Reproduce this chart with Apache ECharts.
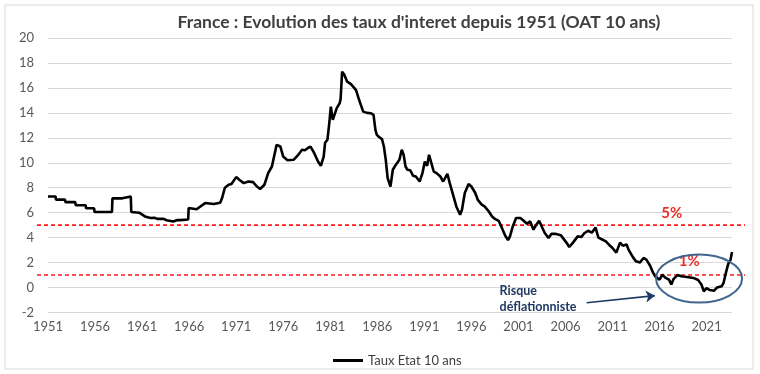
<!DOCTYPE html>
<html>
<head>
<meta charset="utf-8">
<script src="https://cdn.jsdelivr.net/npm/echarts@6/dist/echarts.min.js"></script>
<style>html,body{margin:0;padding:0;background:#fff}#c{width:760px;height:374px}</style>
</head>
<body>
<div id="c"></div>
<script>
const BASE_YEAR = 1951;
const years = [
1951.0,1951.8,1951.85,1952.8,1952.85,1953.9,1953.95,1955.0,1955.05,1955.9,1955.95,1957.8,1957.85,1958.9,1958.95,1959.8,1959.85,1960.7,
1961.3,1961.9,1962.3,1962.6,1963.3,1963.6,1964.3,1964.7,1965.05,1965.9,1965.95,1966.8,1967.2,1967.7,1968.6,1969.3,1969.5,1969.8,1970.2,1970.5,
1971.0,1971.4,1971.8,1972.3,1972.8,1973.2,1973.55,1974.0,1974.4,1974.8,1975.0,1975.3,1975.7,1976.0,1976.45,1977.1,1977.6,1978.0,1978.3,1978.6,
1978.9,1979.3,1979.7,1980.0,1980.3,1980.45,1980.7,1980.9,1981.06,1981.27,1981.7,1982.0,1982.1,1982.26,1982.47,1982.8,1983.2,1983.5,1983.75,
1984.0,1984.25,1984.5,1984.9,1985.3,1985.6,1985.8,1985.95,1986.2,1986.5,1986.7,1986.9,1987.1,1987.4,1987.65,1987.9,1988.1,1988.35,1988.6,
1988.8,1989.0,1989.2,1989.5,1989.8,1990.1,1990.5,1990.8,1991.05,1991.3,1991.5,1991.7,1992.0,1992.3,1992.7,1993.0,1993.2,1993.45,1993.7,
1994.1,1994.4,1994.8,1995.0,1995.3,1995.7,1996.0,1996.4,1996.7,1997.1,1997.4,1997.8,1998.2,1998.5,1998.9,1999.2,1999.6,1999.9,2000.1,
2000.4,2000.75,2001.2,2001.5,2001.9,2002.25,2002.6,2002.9,2003.2,2003.5,2003.8,2004.2,2004.5,2005.0,2005.5,2005.9,2006.2,2006.4,2006.8,
2007.3,2007.7,2008.0,2008.4,2008.8,2009.2,2009.5,2009.9,2010.3,2010.6,2011.0,2011.4,2011.8,2012.1,2012.5,2012.7,2013.2,2013.5,2013.9,
2014.3,2014.6,2015.0,2015.3,2015.6,2016.0,2016.3,2016.6,2017.0,2017.25,2017.5,2017.9,2018.3,2018.9,2019.6,2020.1,2020.45,2020.7,2021.0,
2021.35,2021.8,2022.1,2022.6,2022.8,2023.05,2023.3,2023.55,2023.7
];
const rates = [
7.3,7.3,7.05,7.05,6.85,6.85,6.6,6.6,6.35,6.35,6.05,6.05,7.15,7.15,7.3,7.3,6.05,6.0,
5.7,5.57,5.6,5.5,5.5,5.39,5.3,5.4,5.4,5.45,6.37,6.27,6.5,6.77,6.7,6.8,7.17,8.0,8.24,8.3,
8.85,8.6,8.37,8.5,8.45,8.1,7.9,8.24,9.17,9.7,10.4,11.44,11.3,10.5,10.2,10.24,10.64,11.04,11.0,11.17,
11.3,10.77,10.1,9.76,10.5,11.6,11.84,13.2,14.5,13.44,14.4,14.77,15.1,17.3,17.1,16.5,16.3,16.05,15.8,
15.2,14.64,14.1,14.0,13.97,13.84,12.64,12.24,12.05,11.9,11.3,10.24,8.77,8.1,9.44,9.76,9.7,10.24,11.04,
10.64,9.7,9.44,9.4,8.96,8.9,8.5,9.17,10.1,9.76,10.64,10.1,9.3,9.17,8.9,8.5,8.77,9.12,8.37,
7.3,6.5,5.84,6.24,7.57,8.3,8.1,7.6,7.0,6.64,6.5,6.15,5.7,5.5,5.35,4.85,4.15,3.8,4.1,
4.9,5.57,5.57,5.39,5.12,5.3,4.64,5.04,5.35,4.85,4.37,3.97,4.3,4.3,4.2,3.8,3.5,3.25,3.6,
4.1,4.05,4.35,4.55,4.4,4.8,4.0,3.85,3.7,3.45,3.17,2.8,3.6,3.35,3.45,3.04,2.4,2.1,2.0,
2.37,2.24,1.75,1.2,0.85,0.64,1.04,0.8,0.64,0.25,0.7,1.0,0.9,0.85,0.77,0.6,0.25,-0.3,-0.05,
-0.2,-0.25,0.0,0.1,0.37,1.17,1.9,2.24,2.85
];
const yTicks = {min: -2, max: 20, interval: 2};
const xTickInterval = 5;
const seriesName = 'Taux Etat 10 ans';
const titleText = "France : Evolution des taux d'interet depuis 1951 (OAT 10 ans)";
const refLevels = [5, 1];
const refLabels = [{text: '5%', year: 2017.3, value: 5.98}, {text: '1%', year: 2019.15, value: 2.1}];
const ellipseCenter = {year: 2020.2, value: 0.72};
const arrowFrom = {year: 2008.25, value: -1.22};
const arrowTo = {year: 2015.5, value: -0.65};
const noteLines = [{text: 'Risque', year: 1999.0, value: -0.3}, {text: 'déflationniste', year: 1999.0, value: -1.58}];

const FONT = 'Lato';
const data = years.map((y, i) => [y - BASE_YEAR, rates[i]]);
const xMax = years[years.length - 1] - BASE_YEAR;

const chart = echarts.init(document.getElementById('c'), null, {renderer: 'canvas'});
chart.setOption({
  animation: false,
  backgroundColor: '#fff',
  textStyle: {fontFamily: FONT},
  title: {
    text: titleText,
    left: 414, top: 8, textAlign: 'center',
    textStyle: {fontFamily: FONT, fontSize: 17.5, fontWeight: 'bold', color: '#404040'}
  },
  grid: {left: 48, right: 28, top: 38, bottom: 61.5, containLabel: false},
  legend: {
    left: 328, top: 349,
    itemWidth: 30, itemHeight: 3, itemGap: 5,
    textStyle: {fontFamily: FONT, fontSize: 13, color: '#404040'},
    data: [{name: seriesName, icon: 'rect'}]
  },
  xAxis: {
    type: 'value', min: 0, max: xMax, interval: xTickInterval,
    axisLine: {show: false, onZero: false},
    axisTick: {show: false},
    splitLine: {show: false},
    axisLabel: {
      showMaxLabel: false, margin: 8,
      fontFamily: FONT, fontSize: 13, color: '#595959',
      formatter: v => String(Math.round(v + BASE_YEAR))
    }
  },
  yAxis: {
    type: 'value', min: yTicks.min, max: yTicks.max, interval: yTicks.interval,
    axisLine: {show: false}, axisTick: {show: false},
    splitLine: {lineStyle: {color: '#d9d9d9', width: 1.2}},
    axisLabel: {margin: 14, fontFamily: FONT, fontSize: 13, color: '#595959'}
  },
  series: [{
    name: seriesName, type: 'line', data: data,
    symbol: 'none', showSymbol: false,
    lineStyle: {color: '#000', width: 2.6},
    itemStyle: {color: '#000'},
    z: 5,
    markLine: {
      silent: true, symbol: ['none', 'arrow'], symbolSize: 9,
      label: {show: false},
      lineStyle: {color: '#1f3864', width: 1.6, type: 'solid'},
      data: [[
        {coord: [arrowFrom.year - BASE_YEAR, arrowFrom.value]},
        {coord: [arrowTo.year - BASE_YEAR, arrowTo.value]}
      ]]
    }
  }]
});

function px(year, value) {
  return chart.convertToPixel({gridIndex: 0}, [year - BASE_YEAR, value]);
}
const gridRect = chart.getModel().getComponent('grid', 0).coordinateSystem.getRect();
const graphics = [];
graphics.push({
  type: 'rect', shape: {x: 5, y: 5, width: 748, height: 364},
  style: {fill: 'none', stroke: '#d9d9d9', lineWidth: 1}, silent: true, z: 0
});
refLevels.forEach(lv => {
  const y = chart.convertToPixel({yAxisIndex: 0}, lv);
  graphics.push({
    type: 'line',
    shape: {x1: gridRect.x - 11, y1: y, x2: gridRect.x + gridRect.width + 13, y2: y},
    style: {stroke: '#ff1a1a', lineWidth: 1.6, lineDash: [4, 3]}, z: 4, silent: true
  });
});
refLabels.forEach(l => {
  const p = px(l.year, l.value);
  graphics.push({
    type: 'text', x: p[0], y: p[1],
    style: {text: l.text, fill: '#e8302a', font: 'bold 15px ' + FONT, align: 'center', verticalAlign: 'middle'},
    z: 6, silent: true
  });
});
const ec = px(ellipseCenter.year, ellipseCenter.value);
graphics.push({
  type: 'ellipse', shape: {cx: ec[0], cy: ec[1], rx: 43, ry: 24},
  style: {fill: 'none', stroke: '#41668c', lineWidth: 2}, z: 6, silent: true
});
noteLines.forEach(n => {
  const p = px(n.year, n.value);
  graphics.push({
    type: 'text', x: p[0], y: p[1],
    style: {text: n.text, fill: '#1f3864', font: 'bold 12.5px ' + FONT, align: 'left', verticalAlign: 'middle'},
    z: 6, silent: true
  });
});
chart.setOption({graphic: graphics});
</script>
</body>
</html>
